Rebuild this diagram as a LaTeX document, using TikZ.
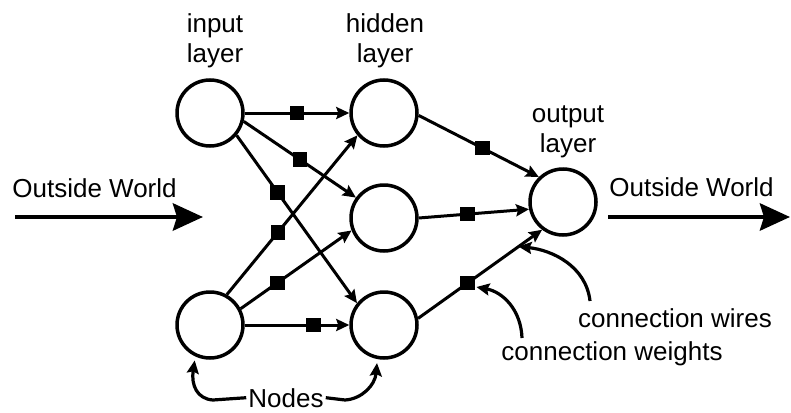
\documentclass[tikz,border=0pt]{standalone}
\usepackage{fontspec}
\setmainfont{Liberation Sans}
\usetikzlibrary{arrows.meta}
\begin{document}
\begin{tikzpicture}[x=1pt,y=-1pt,
  neuron/.style={circle,draw,line width=3.5pt,minimum size=66pt,inner sep=0pt},
  wire/.style={line width=3pt,-{Stealth[length=13pt,width=12pt,inset=2pt]}},
  wt/.style={fill=black,rectangle,minimum size=14.5pt,inner sep=0pt},
  lbl/.style={font=\fontsize{26}{30}\selectfont,align=center,inner sep=0pt},
  bigarrow/.style={line width=4.8pt,-{Stealth[length=30pt,width=27pt,inset=4pt]}},
  note/.style={line width=3.2pt,-{Stealth[length=13pt,width=12pt,inset=2pt]}}]
\useasboundingbox (0,0) rectangle (791,412);

% layer labels (base anchor sits on the last line)
\node[lbl,anchor=base] (inlbl)  at (215,63)  {input\\layer};
\node[lbl,anchor=base] (hidlbl) at (385,63)  {hidden\\layer};
\node[lbl,anchor=base] (outlbl) at (568,152) {output\\layer};

% neurons
\node[neuron] (i1) at (210,113) {};
\node[neuron] (i2) at (210,325) {};
\node[neuron] (h1) at (384,113) {};
\node[neuron] (h2) at (384,218) {};
\node[neuron] (h3) at (384,325) {};
\node[neuron] (o)  at (563,202) {};

% input -> hidden
\draw[wire] (i1.0)   -- node[wt,pos=.50]{} (h1.180);
\draw[wire] (i1.-14) -- node[wt,pos=.50]{} (h2.144);
\draw[wire] (i1.-40) -- node[wt,pos=.34]{} (h3.141);
\draw[wire] (i2.61)  -- node[wt,pos=.39]{} (h1.220);
\draw[wire] (i2.28)  -- node[wt,pos=.33]{} (h2.201);
\draw[wire] (i2.0)   -- node[wt,pos=.66]{} (h3.180);

% hidden -> output
\draw[wire] (h1.-4) -- node[wt,pos=.53]{} (o.134);
\draw[wire] (h2.0)  -- node[wt,pos=.44]{} (o.192);
\draw[wire] (h3.11) -- node[wt,pos=.40] (w9) {} coordinate[pos=.81] (wirept) (o.233);

% outside world
\node[lbl,anchor=base] (owl) at (94.5,197) {Outside World};
\node[lbl,anchor=base] (owr) at (691.5,196) {Outside World};
\coordinate (lwA) at (15,217);
\coordinate (lwB) at (203,217);
\coordinate (rwA) at (608,217);
\coordinate (rwB) at (790,217);
\draw[bigarrow] (lwA) -- (lwB);
\draw[bigarrow] (rwA) -- (rwB);

% annotations
\node[lbl,anchor=base,inner xsep=2pt] (nodes) at (286,407) {Nodes};
\draw[note,shorten >=4pt] (nodes.west) -- (213,400)
  .. controls (197,399) and (191,385) .. (i2.245);
\draw[note,shorten >=4pt] (nodes.east) -- (345,400)
  .. controls (362,399) and (375,385) .. (h3.259);

\node[lbl,anchor=base] (cwires) at (675,327) {connection wires};
\node[lbl,anchor=base] (cwgts)  at (612,360) {connection weights};
\coordinate (cwstart) at (590,301);
\coordinate (cgstart) at (522,338);
\draw[note] (cwstart) .. controls (586,266) and (552,250) .. (wirept);
\draw[note] (cgstart) .. controls (521,310) and (503,292) .. (w9.-25);
\end{tikzpicture}
\end{document}
